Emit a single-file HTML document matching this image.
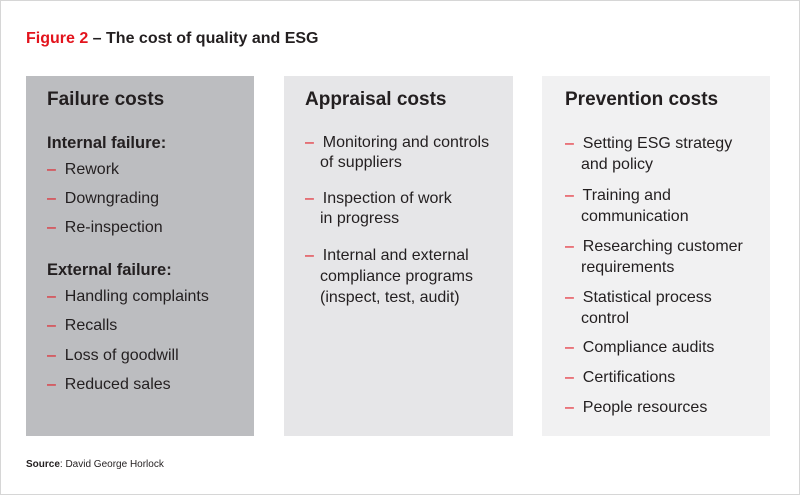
<!DOCTYPE html>
<html><head><meta charset="utf-8"><style>
body{margin:0;width:800px;height:495px;overflow:hidden;background:#fff;font-family:"Liberation Sans",sans-serif;color:#231f20}
#frame{position:absolute;left:0;top:0;width:798px;height:493px;border:1px solid #d6d6d6}
.p{position:absolute;top:76px;height:360px}
.t{position:absolute;font-size:16px;line-height:20px;white-space:nowrap}
.h{position:absolute;font-size:19px;font-weight:bold;line-height:24px;white-space:nowrap}
.d{color:#e3141d}
</style></head><body>
<div id="frame"></div>
<div style="position:absolute;left:26px;top:29px;font-size:16px;font-weight:bold;line-height:20px"><span style="color:#e3141d">Figure 2</span> – The cost of quality and ESG</div>

<div class="p" style="left:26px;width:228px;background:#bcbdc0"></div>
<div class="p" style="left:284px;width:229px;background:#e6e6e8"></div>
<div class="p" style="left:542px;width:228px;background:#f1f1f2"></div>

<div class="h" style="left:47px;top:88px">Failure costs</div>
<div class="h" style="left:305px;top:88px">Appraisal costs</div>
<div class="h" style="left:565px;top:88px">Prevention costs</div>

<div class="t" style="left:47px;top:133px;font-weight:bold;font-size:16.5px">Internal failure:</div>
<div class="t" style="left:47px;top:160px"><span class="d">–</span>&nbsp; Rework</div>
<div class="t" style="left:47px;top:189px"><span class="d">–</span>&nbsp; Downgrading</div>
<div class="t" style="left:47px;top:218px"><span class="d">–</span>&nbsp; Re-inspection</div>
<div class="t" style="left:47px;top:260px;font-weight:bold;font-size:16.5px">External failure:</div>
<div class="t" style="left:47px;top:287px"><span class="d">–</span>&nbsp; Handling complaints</div>
<div class="t" style="left:47px;top:316px"><span class="d">–</span>&nbsp; Recalls</div>
<div class="t" style="left:47px;top:346px"><span class="d">–</span>&nbsp; Loss of goodwill</div>
<div class="t" style="left:47px;top:375px"><span class="d">–</span>&nbsp; Reduced sales</div>

<div class="t" style="left:305px;top:133px"><span class="d">–</span>&nbsp; Monitoring and controls<br><span style="margin-left:15px">of suppliers</span></div>
<div class="t" style="left:305px;top:189px"><span class="d">–</span>&nbsp; Inspection of work<br><span style="margin-left:15px">in progress</span></div>
<div class="t" style="left:305px;top:245px;line-height:21px"><span class="d">–</span>&nbsp; Internal and external<br><span style="margin-left:15px">compliance programs</span><br><span style="margin-left:15px">(inspect, test, audit)</span></div>

<div class="t" style="left:565px;top:133px;line-height:21px"><span class="d">–</span>&nbsp; Setting ESG strategy<br><span style="margin-left:16px">and policy</span></div>
<div class="t" style="left:565px;top:185px;line-height:21px"><span class="d">–</span>&nbsp; Training and<br><span style="margin-left:16px">communication</span></div>
<div class="t" style="left:565px;top:236px;line-height:21px"><span class="d">–</span>&nbsp; Researching customer<br><span style="margin-left:16px">requirements</span></div>
<div class="t" style="left:565px;top:287px;line-height:21px"><span class="d">–</span>&nbsp; Statistical process<br><span style="margin-left:16px">control</span></div>
<div class="t" style="left:565px;top:338px"><span class="d">–</span>&nbsp; Compliance audits</div>
<div class="t" style="left:565px;top:368px"><span class="d">–</span>&nbsp; Certifications</div>
<div class="t" style="left:565px;top:398px"><span class="d">–</span>&nbsp; People resources</div>

<div style="position:absolute;left:26px;top:458px;font-size:10px;line-height:14px"><b>Source</b>: David George Horlock</div>
</body></html>
